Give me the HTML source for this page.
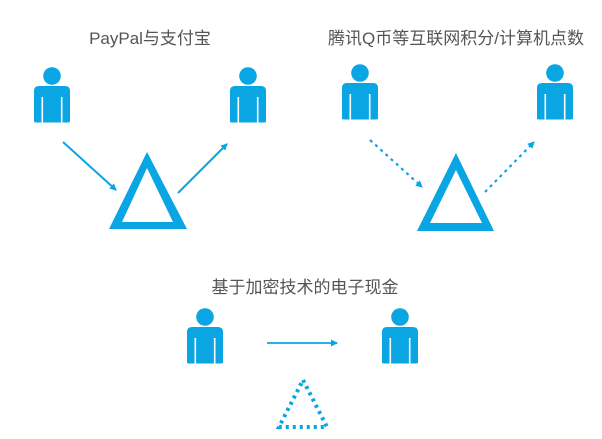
<!DOCTYPE html>
<html><head><meta charset="utf-8">
<style>
html,body{margin:0;padding:0;background:#fff;}
svg{display:block;}
text{font-family:"Liberation Sans","Noto Sans CJK SC",sans-serif;fill:#555;}
</style></head>
<body>
<svg width="602" height="439" viewBox="0 0 602 439" xmlns="http://www.w3.org/2000/svg">
<defs>
  <g id="p">
    <circle cx="0" cy="-10" r="8.8" fill="#0aa5e3"/>
    <path d="M-18,5 Q-18,0 -13,0 L13,0 Q18,0 18,5 L18,35 Q18,36.5 16.5,36.5 L-16.5,36.5 Q-18,36.5 -18,35 Z" fill="#0aa5e3"/>
    <rect x="-10.5" y="11" width="1.6" height="26" fill="#fff"/>
    <rect x="8.9" y="11" width="1.6" height="26" fill="#fff"/>
  </g>
  <marker id="ah" markerWidth="8" markerHeight="8" refX="6" refY="4" orient="auto" markerUnits="userSpaceOnUse">
    <path d="M0,0.5 L7,4 L0,7.5 Z" fill="#0aa5e3"/>
  </marker>
</defs>

<text x="150" y="44" font-size="17" text-anchor="middle">PayPal与支付宝</text>
<text x="456" y="44" font-size="17" text-anchor="middle">腾讯Q币等互联网积分/计算机点数</text>
<text x="305" y="293" font-size="17" text-anchor="middle">基于加密技术的电子现金</text>

<use href="#p" x="52" y="86"/>
<use href="#p" x="248" y="86"/>
<use href="#p" x="360" y="83"/>
<use href="#p" x="555" y="83"/>
<use href="#p" x="205" y="327"/>
<use href="#p" x="400" y="327"/>

<path d="M147,152 L187,229 L109,229 Z M147,168 L122,222 L173,222 Z" fill="#0aa5e3" fill-rule="evenodd"/>
<line x1="63" y1="142" x2="116" y2="190" stroke="#0aa5e3" stroke-width="2" marker-end="url(#ah)"/>
<line x1="178" y1="193" x2="227" y2="144" stroke="#0aa5e3" stroke-width="2" marker-end="url(#ah)"/>

<path d="M456,153 L494,231 L417,231 Z M456,170 L430,223 L482,223 Z" fill="#0aa5e3" fill-rule="evenodd"/>
<line x1="370" y1="140" x2="422" y2="187" stroke="#0aa5e3" stroke-width="2.2" stroke-dasharray="3,4" marker-end="url(#ah)"/>
<line x1="485" y1="192" x2="534" y2="142" stroke="#0aa5e3" stroke-width="2.2" stroke-dasharray="3,4" marker-end="url(#ah)"/>

<line x1="267" y1="343" x2="337" y2="343" stroke="#0aa5e3" stroke-width="1.8" marker-end="url(#ah)"/>
<path d="M303,380 L327,427 L279,427 Z" fill="none" stroke="#0aa5e3" stroke-width="4" stroke-dasharray="3,4"/>
</svg>
</body></html>
